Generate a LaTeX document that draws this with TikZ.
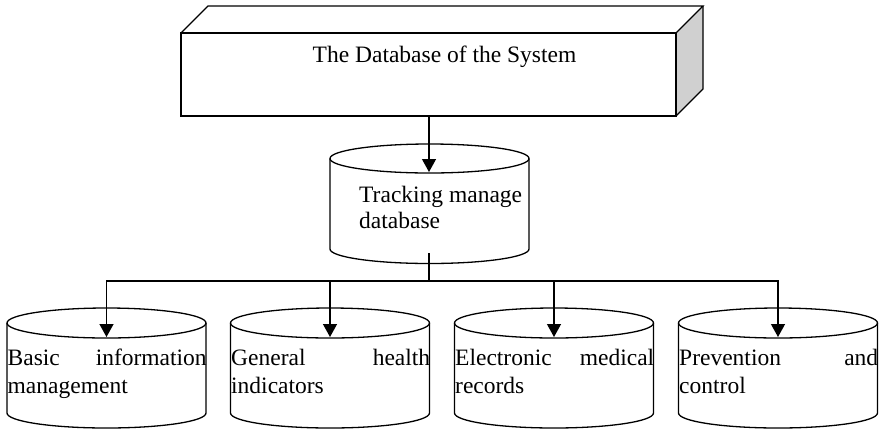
\documentclass[tikz,border=0pt]{standalone}
\usepackage{fontspec}
\setmainfont{Liberation Serif}
\usetikzlibrary{arrows.meta}
\definecolor{sidegray}{HTML}{D0D0D0}
\newcommand{\cylshape}[5]{% cx, top cy, bottom cy, rx, ry
  \draw[cylline] ({#1-#4},{#2}) -- ({#1-#4},{#3}) arc[start angle=180,end angle=360,x radius=#4pt,y radius=#5pt] -- ({#1+#4},{#2});
  \draw[cylline] (#1,#2) ellipse[x radius=#4pt,y radius=#5pt];
}
\begin{document}
\begin{tikzpicture}[x=1pt,y=1pt,
  cylline/.style={line width=1.3pt, fill=none},
  conn/.style={line width=1.3pt},
  arr/.style={conn,-{Triangle[width=14pt,length=13pt]}},
  lbl/.style={anchor=base west, inner sep=0pt, font=\fontsize{23.5}{28}\selectfont},
  boxstyle/.style={draw, line width=1.3pt, minimum width=495pt, minimum height=83pt, inner sep=0pt}]
\useasboundingbox (0,0) rectangle (880,-429);
% 3D box
\fill[sidegray] (676,-33) -- (703,-6) -- (703,-89) -- (676,-116) -- cycle;
\draw[line width=1.3pt, line join=miter] (181,-33) -- (208,-6) -- (703,-6) -- (676,-33);
\draw[line width=1.3pt] (703,-6) -- (703,-89) -- (676,-116);
\node[boxstyle] (sys) at (428.5,-74.5) {};
\node[lbl, anchor=base] (systxt) at (444.5,-62) {The Database of the System};
% tracking cylinder
\cylshape{429.5}{-158.5}{-249}{99.5}{14.5}
\node[inner sep=0pt, minimum width=199pt, minimum height=105pt] (trk) at (429.5,-211) {};
\node[lbl] (trk1) at (359,-202) {Tracking manage};
\node[lbl] (trk2) at (359,-228.5) {database};
\coordinate (trktop) at (429,-172);
\coordinate (trkbot) at (429,-253);
\coordinate (bus) at (429,-281);
% bottom cylinders
\foreach \i/\cx in {1/106.5,2/330,3/554,4/778}{
  \cylshape{\cx}{-323}{-413}{99.5}{15}
  \node[inner sep=0pt, minimum width=199pt, minimum height=120pt] (db\i) at (\cx,-368) {};
  \coordinate (db\i top) at (\cx,-337);
}
\node[lbl] (t1a) at (7.5,-365) {\makebox[199pt][s]{Basic information}};
\node[lbl] (t1b) at (7.5,-393) {management};
\node[lbl] (t2a) at (231,-365) {\makebox[199pt][s]{General health}};
\node[lbl] (t2b) at (231,-393) {indicators};
\node[lbl] (t3a) at (455,-365) {\makebox[199pt][s]{Electronic medical}};
\node[lbl] (t3b) at (455,-393) {records};
\node[lbl] (t4a) at (679,-365) {\makebox[199pt][s]{Prevention and}};
\node[lbl] (t4b) at (679,-393) {control};
% connectors
\draw[arr] (sys.south -| trktop) -- (trktop);
\draw[conn] (trkbot) -- (bus);
\foreach \i in {1,2,3,4}{
  \draw[arr] (bus) -| (db\i top);
}
\end{tikzpicture}
\end{document}
